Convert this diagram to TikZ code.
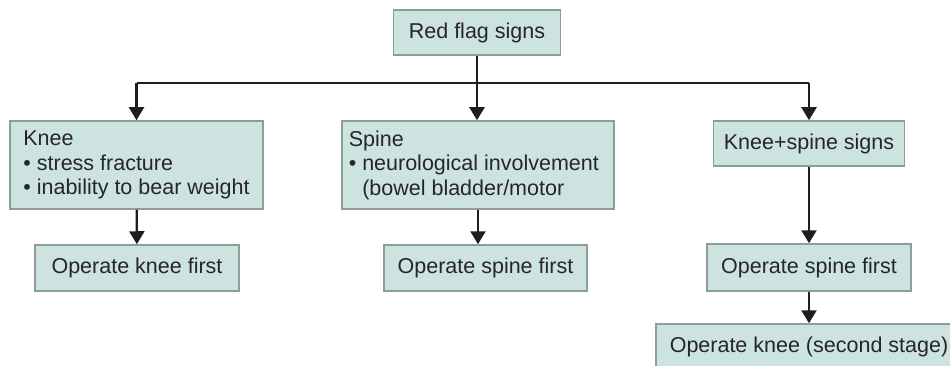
\documentclass[tikz,border=0pt]{standalone}
\usepackage{xcolor}
\usepackage{fontspec}
\setmainfont{Liberation Sans}
\usepackage{tikz}
\usetikzlibrary{positioning, arrows.meta}
\definecolor{boxfill}{HTML}{CDE3DF}
\definecolor{boxline}{HTML}{8E9C9A}
\definecolor{arrowgray}{HTML}{1E1E1E}

\begin{document}
\begin{tikzpicture}[x=1pt, y=-1pt,
    stepbox/.style={fill=boxfill, draw=boxline, line width=1.5pt,
      inner sep=0pt, font=\fontsize{21.5}{24.5}\selectfont, text=black!85},
    arr/.style={draw=arrowgray, line width=2.3pt,
      -{Triangle[width=15pt, length=13pt]}}]
    \useasboundingbox (0,0) rectangle (950,366);
    % top
    \node[stepbox, minimum width=167pt, minimum height=45pt] (red) at (477,32.5) {Red flag signs};
    % second row
    \node[stepbox, minimum width=253pt, minimum height=88pt, align=left] (knee) at (136.5,165)
      {Knee\\\textbullet\ stress fracture\\\textbullet\ inability to bear weight};
    \node[stepbox, minimum width=272pt, minimum height=88pt, align=left] (spine) at (478,165)
      {Spine\\\textbullet\ neurological involvement\\\phantom{\textbullet\ }(bowel bladder/motor\phantom{xxxx}};
    \node[stepbox, minimum width=191pt, minimum height=45pt] (kspine) at (809,143.5) {Knee+spine signs};
    % third row
    \node[stepbox, minimum width=204pt, minimum height=46pt] (opknee) at (137,268) {Operate knee first};
    \node[stepbox, minimum width=203pt, minimum height=46pt] (opspine) at (485.5,268) {Operate spine first};
    \node[stepbox, minimum width=204pt, minimum height=47pt] (opspinetwo) at (809,267.5) {Operate spine first};
    \node[stepbox, minimum width=306pt, minimum height=45pt] (opkneetwo) at (809,346.5) {Operate knee (second stage)};
    % connectors
    \coordinate (bus) at (477,83);
    \draw[draw=arrowgray, line width=2.3pt] (knee |- bus) -- (kspine |- bus);
    \draw[arr] (red) -- (red |- spine.north);
    \draw[arr] (knee |- bus) -- (knee);
    \draw[arr] (kspine |- bus) -- (kspine);
    \draw[arr] (knee) -- (opknee);
    \draw[arr] (spine) -- (spine |- opspine.north);
    \draw[arr] (kspine) -- (opspinetwo);
    \draw[arr] (opspinetwo) -- (opspinetwo |- opkneetwo.north);
  \end{tikzpicture}
\end{document}
